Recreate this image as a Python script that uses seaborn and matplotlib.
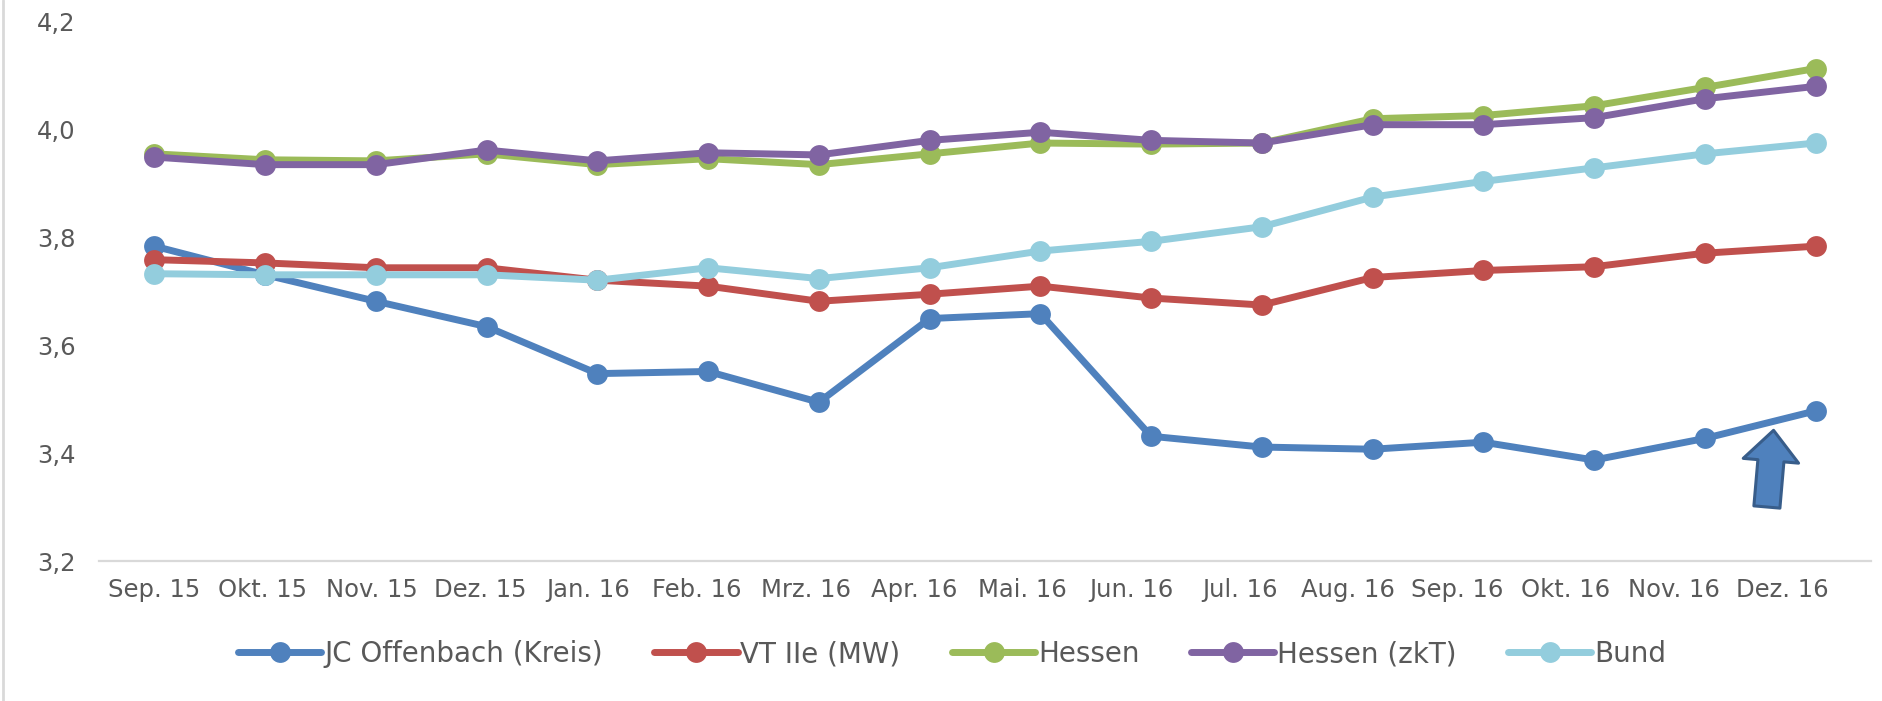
import matplotlib.pyplot as plt
import seaborn as sns
import pandas as pd
from matplotlib.lines import Line2D
from matplotlib.ticker import FuncFormatter

months = ['Sep. 15', 'Okt. 15', 'Nov. 15', 'Dez. 15', 'Jan. 16', 'Feb. 16', 'Mrz. 16', 'Apr. 16',
          'Mai. 16', 'Jun. 16', 'Jul. 16', 'Aug. 16', 'Sep. 16', 'Okt. 16', 'Nov. 16', 'Dez. 16']

jc_offenbach = [3.783, 3.730, 3.681, 3.634, 3.547, 3.551, 3.494, 3.649,
                3.658, 3.431, 3.411, 3.407, 3.420, 3.387, 3.427, 3.478]
vt_iie = [3.758, 3.752, 3.743, 3.743, 3.720, 3.709, 3.681, 3.694,
          3.709, 3.687, 3.674, 3.725, 3.738, 3.745, 3.770, 3.783]
hessen = [3.954, 3.943, 3.941, 3.954, 3.934, 3.945, 3.934, 3.954,
          3.974, 3.972, 3.974, 4.019, 4.025, 4.043, 4.077, 4.112]
hessen_zkt = [3.948, 3.934, 3.934, 3.961, 3.941, 3.956, 3.952, 3.979,
              3.994, 3.979, 3.974, 4.008, 4.008, 4.021, 4.056, 4.079]
bund = [3.732, 3.730, 3.730, 3.730, 3.720, 3.743, 3.723, 3.743,
        3.774, 3.792, 3.819, 3.874, 3.903, 3.928, 3.954, 3.974]

names = ['JC Offenbach (Kreis)', 'VT IIe (MW)', 'Hessen', 'Hessen (zkT)', 'Bund']
colors = ['#4F81BD', '#C0504D', '#9BBB59', '#8064A2', '#93CDDD']

rows = []
for name, vals in zip(names, [jc_offenbach, vt_iie, hessen, hessen_zkt, bund]):
  for i, v in enumerate(vals):
    rows.append({'idx': i, 'Wert': v, 'Reihe': name})
df = pd.DataFrame(rows)

sns.set_style('white')
plt.rcParams['font.family'] = ['DejaVu Sans']

W, H = 1883, 701
fig = plt.figure(figsize=(W / 100, H / 100), dpi=100)
ax = fig.add_axes([99 / W, 1 - 561 / H, (1871 - 99) / W, (561 - 21) / H])

sns.lineplot(data=df, x='idx', y='Wert', hue='Reihe', hue_order=names, palette=colors,
             marker='o', markersize=15, markeredgewidth=0, linewidth=5, sort=False,
             legend=False, ax=ax)

ax.set_xlim(-0.5, len(months) - 0.5)
ax.set_ylim(3.2, 4.2)
# labels in the original sit on a slightly tighter spacing than the points
label_step = 0.98
ax.set_xticks([i * label_step for i in range(len(months))])
ax.set_xticklabels(months)
ax.set_yticks([3.2, 3.4, 3.6, 3.8, 4.0, 4.2])
ax.yaxis.set_major_formatter(FuncFormatter(lambda v, p: f'{v:.1f}'.replace('.', ',')))
ax.set_xlabel('')
ax.set_ylabel('')
ax.tick_params(axis='both', length=0, labelsize=17.5, colors='#595959')
ax.tick_params(axis='y', pad=17)
ax.tick_params(axis='x', pad=12)
for s in ['left', 'top', 'right']:
  ax.spines[s].set_visible(False)
ax.spines['bottom'].set_color('#D9D9D9')
ax.spines['bottom'].set_linewidth(1.6)

# arrow pointing at the last JC value
last_x = len(jc_offenbach) - 1
last_y = jc_offenbach[-1]
ax.annotate('', xy=(last_x - 0.38, last_y - 0.036), xytext=(last_x - 0.44, last_y - 0.178),
            arrowprops=dict(arrowstyle='simple,head_length=0.55,head_width=1.0,tail_width=0.47',
                            fc='#4F81BD', ec='#385D8A', lw=2.2, mutation_scale=40,
                            shrinkA=0, shrinkB=0))

leg = fig.legend(handles=ax.lines[:5], labels=names, ncol=5, loc='center',
                 bbox_to_anchor=(0.5056, 0.067), frameon=False, handlelength=3.0,
                 columnspacing=1.85, handletextpad=0.1, prop={'size': 20})
for t in leg.get_texts():
  t.set_color('#595959')

fig.add_artist(Line2D([3 / W, 3 / W], [0, 1], transform=fig.transFigure, color='#D9D9D9', lw=2))

plt.savefig('out.png', dpi=100)
